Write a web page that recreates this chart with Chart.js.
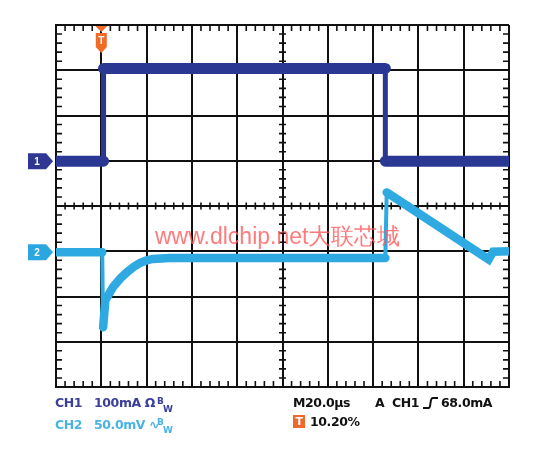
<!DOCTYPE html>
<html>
<head>
<meta charset="utf-8">
<script src="https://cdn.jsdelivr.net/npm/chart.js@4"></script>
<style>
  html, body { margin: 0; padding: 0; background: #fff; }
  #wrap { position: relative; width: 536px; height: 452px; }
  canvas { position: absolute; left: 0; top: 0; }
  .t { position: absolute; font-family: "DejaVu Sans", sans-serif; font-weight: bold; font-size: 12.5px; white-space: pre; line-height: 14px; letter-spacing: -0.4px; }
  .s { font-size: 9px; letter-spacing: 0; }
  .c1 { color: #3b3f98; }
  .c2 { color: #4ab3e3; }
  .k { color: #111; }
</style>
</head>
<body>
<div id="wrap">
  <canvas id="scope" width="536" height="452"></canvas>
  <div class="t c1" style="left:55px; top:396px;">CH1</div>
  <div class="t c1" style="left:94px; top:396px;">100mA Ω</div>
  <div class="t c1 s" style="left:157px; top:394px;">B</div>
  <div class="t c1 s" style="left:163px; top:402px;">W</div>
  <div class="t c2" style="left:55px; top:418px;">CH2</div>
  <div class="t c2" style="left:94px; top:418px;">50.0mV ∿</div>
  <div class="t c2 s" style="left:157px; top:415px;">B</div>
  <div class="t c2 s" style="left:163px; top:423px;">W</div>
  <div class="t k" style="left:293px; top:396px;">M20.0µs</div>
  <div class="t k" style="left:375px; top:396px;">A</div>
  <div class="t k" style="left:392px; top:396px;">CH1</div>
  <svg style="position:absolute; left:422px; top:397px;" width="16" height="12"><path d="M1 11 H7 Q8 11 8.5 6 Q9 1 11 1 H16" stroke="#111" stroke-width="2" fill="none"/></svg>
  <div class="t k" style="left:441px; top:396px;">68.0mA</div>
  <div class="t" style="left:293px; top:415px; width:12px; height:13px; background:#ef6a2a; color:#fff; text-align:center; line-height:13px; font-size:11px;">T</div>
  <div class="t k" style="left:310px; top:415px;">10.20%</div>
</div>
<script>
// horizontal: 10 divisions at 20 us/div, vertical: 8 divisions (centre = 0)
const ch1Time = [0, 1.05, 1.05, 7.27, 7.27, 10];
const ch1Level = [0.99, 0.99, 3.04, 3.04, 0.99, 0.99];

const ch2Time = [0, 1.02, 1.04, 1.09, 1.26, 1.42, 1.57, 1.72, 1.85, 2.0, 2.14, 2.5, 3.0, 7.27, 7.30, 9.55, 9.65, 10];
const ch2Level = [-1.02, -1.02, -2.68, -2.08, -1.79, -1.6, -1.46, -1.34, -1.26, -1.2, -1.17, -1.15, -1.15, -1.15, 0.3, -1.18, -1.01, -1.0];

const ch1Marker = 0.99;
const ch2Marker = -1.02;
const triggerTime = 1.0;

const toPoints = (xs, ys) => xs.map((x, i) => ({ x: x, y: ys[i] }));

// fast edges are drawn thinner than the settled trace
const edgeWidth = (thick, thin) => c => (Math.abs(c.p1.parsed.x - c.p0.parsed.x) < 0.05 ? thin : thick);

// minor ticks, channel markers, trigger flag and watermark
const scopeDecor = {
  id: 'scopeDecor',
  beforeDatasetsDraw(chart) {
    const ctx = chart.ctx;
    const xs = chart.scales.x, ys = chart.scales.y;
    const a = chart.chartArea;
    const cx = xs.getPixelForValue(5), cy = ys.getPixelForValue(0);
    ctx.save();
    ctx.strokeStyle = '#111';
    ctx.lineWidth = 1.6;
    ctx.beginPath();
    for (let i = 1; i < 50; i++) {
      if (i % 5 === 0) continue;
      const px = xs.getPixelForValue(i / 5);
      ctx.moveTo(px, a.top); ctx.lineTo(px, a.top + 6);
      ctx.moveTo(px, a.bottom); ctx.lineTo(px, a.bottom - 6);
      ctx.moveTo(px, cy - 3.5); ctx.lineTo(px, cy + 3.5);
    }
    for (let i = 1; i < 40; i++) {
      if (i % 5 === 0) continue;
      const py = ys.getPixelForValue(-4 + i / 5);
      ctx.moveTo(a.left, py); ctx.lineTo(a.left + 6, py);
      ctx.moveTo(a.right, py); ctx.lineTo(a.right - 6, py);
      ctx.moveTo(cx - 3.5, py); ctx.lineTo(cx + 3.5, py);
    }
    ctx.stroke();
    ctx.restore();
  },
  afterDatasetsDraw(chart) {
    const ctx = chart.ctx;
    const xs = chart.scales.x, ys = chart.scales.y;
    const a = chart.chartArea;
    ctx.save();
    const marker = (y, color, label) => {
      ctx.fillStyle = color;
      ctx.beginPath();
      ctx.moveTo(28, y - 8); ctx.lineTo(46, y - 8); ctx.lineTo(53, y);
      ctx.lineTo(46, y + 8); ctx.lineTo(28, y + 8); ctx.closePath();
      ctx.fill();
      ctx.fillStyle = '#fff';
      ctx.font = 'bold 10px "Liberation Sans", Arial, sans-serif';
      ctx.textAlign = 'center'; ctx.textBaseline = 'middle';
      ctx.fillText(label, 37, y + 1);
    };
    marker(ys.getPixelForValue(ch1Marker), '#2f3793', '1');
    marker(ys.getPixelForValue(ch2Marker), '#2aa7e0', '2');

    // trigger flag
    const tx = xs.getPixelForValue(triggerTime);
    ctx.fillStyle = '#f06a28';
    ctx.beginPath();
    ctx.moveTo(tx - 6, a.top + 1); ctx.lineTo(tx + 6, a.top + 1); ctx.lineTo(tx, a.top + 7); ctx.closePath();
    ctx.fill();
    ctx.beginPath();
    ctx.moveTo(tx - 5.5, a.top + 8); ctx.lineTo(tx + 5.5, a.top + 8); ctx.lineTo(tx + 5.5, a.top + 22);
    ctx.lineTo(tx, a.top + 28); ctx.lineTo(tx - 5.5, a.top + 22); ctx.closePath();
    ctx.fill();
    ctx.fillStyle = '#fff';
    ctx.font = 'bold 10px "Liberation Sans", Arial, sans-serif';
    ctx.textAlign = 'center'; ctx.textBaseline = 'middle';
    ctx.fillText('T', tx, a.top + 16);

    // watermark
    ctx.fillStyle = 'rgba(255, 90, 90, 0.8)';
    ctx.font = '23px "Liberation Sans", Arial, sans-serif';
    ctx.textAlign = 'left'; ctx.textBaseline = 'alphabetic';
    ctx.fillText('www.dlchip.net大联芯城', 155, 244);
    ctx.restore();
  }
};

new Chart(document.getElementById('scope').getContext('2d'), {
  type: 'scatter',
  data: {
    datasets: [
      {
        label: 'CH1',
        data: toPoints(ch1Time, ch1Level),
        showLine: true,
        borderColor: '#2b3893',
        backgroundColor: '#2b3893',
        borderWidth: 11,
        borderCapStyle: 'round',
        segment: { borderWidth: edgeWidth(11, 5) },
        pointRadius: 0
      },
      {
        label: 'CH2',
        data: toPoints(ch2Time, ch2Level),
        showLine: true,
        borderColor: '#2ea9e1',
        backgroundColor: '#2ea9e1',
        borderWidth: 8.5,
        borderCapStyle: 'round',
        segment: { borderWidth: edgeWidth(8.5, 4) },
        pointRadius: 0
      }
    ]
  },
  options: {
    responsive: false,
    animation: false,
    layout: { padding: { left: 56, top: 25, right: 27, bottom: 65 } },
    plugins: { legend: { display: false }, tooltip: { enabled: false } },
    scales: {
      x: {
        min: 0, max: 10,
        ticks: { display: false, stepSize: 1 },
        grid: { color: '#111', lineWidth: 2, drawTicks: false },
        border: { color: '#111', width: 2 },
        afterFit: s => { s.height = 0; }
      },
      y: {
        min: -4, max: 4,
        ticks: { display: false, stepSize: 1 },
        grid: { color: '#111', lineWidth: 2, drawTicks: false },
        border: { color: '#111', width: 2 },
        afterFit: s => { s.width = 0; }
      }
    }
  },
  plugins: [scopeDecor]
});
</script>
</body>
</html>
